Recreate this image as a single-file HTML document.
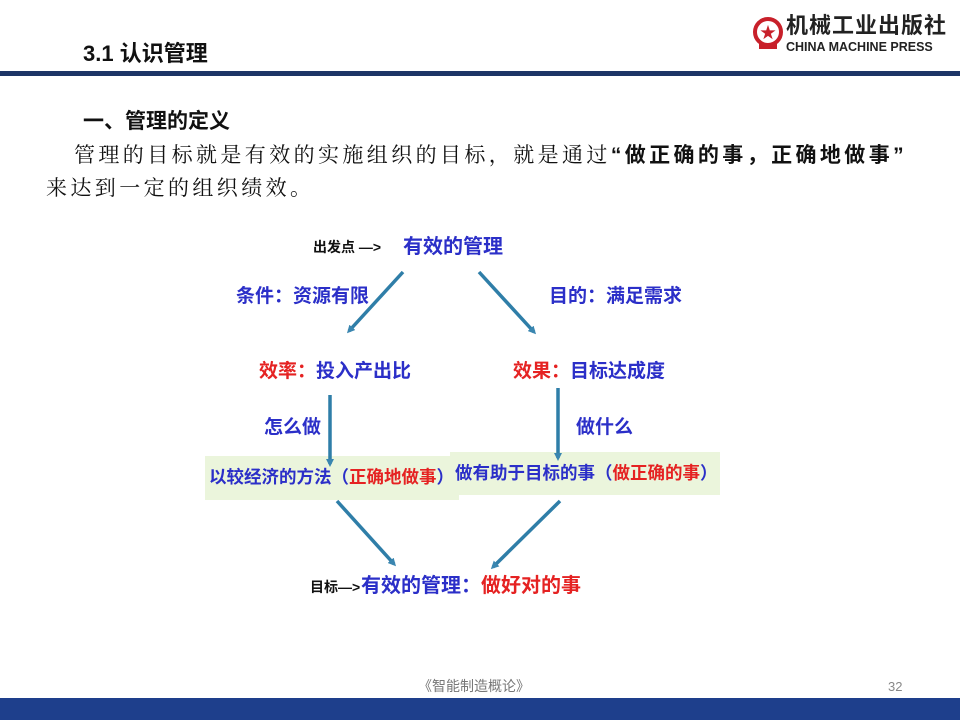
<!DOCTYPE html>
<html><head><meta charset="utf-8"><style>
body{margin:0;width:960px;height:720px;position:relative;background:#fff;overflow:hidden;font-family:"Liberation Sans","Noto Sans CJK SC",sans-serif}
.a{position:absolute;white-space:nowrap;line-height:1}
.b{color:#2b2fc8;font-weight:bold}
.r{color:#e52222;font-weight:bold}
.k{color:#111;font-weight:bold}
.s{font-family:"Liberation Serif","Noto Serif CJK SC",serif;font-size:21px;letter-spacing:3.4px;color:#111}
</style></head><body>
<div class="a" style="left:83px;top:43px;font-size:22px;font-weight:bold;color:#111">3.1 认识管理</div>
<div style="position:absolute;left:0;top:71px;width:960px;height:5px;background:#1d3566"></div>
<svg style="position:absolute;left:751px;top:17px" width="34" height="34"><circle cx="17" cy="15" r="13" fill="none" stroke="#c8202a" stroke-width="4"/><text x="17" y="21" font-size="16" fill="#c8202a" text-anchor="middle">★</text><rect x="8" y="26" width="18" height="6" fill="#c8202a"/></svg>
<div class="a" style="left:786px;top:15px;font-size:22px;font-weight:bold;color:#222;letter-spacing:1px">机械工业出版社</div>
<div class="a" style="left:786px;top:41px;font-size:12.5px;font-weight:bold;color:#222">CHINA MACHINE PRESS</div>
<div class="a" style="left:83px;top:111px;font-size:21px;font-weight:bold;color:#111">一、管理的定义</div>
<div class="a s" style="left:74px;top:145px">管理的目标就是有效的实施组织的目标，就是通过<b style="font-family:'Liberation Sans','Noto Sans CJK SC',sans-serif">“做正确的事，正确地做事”</b></div>
<div class="a s" style="left:46px;top:178px">来达到一定的组织绩效。</div>

<div style="position:absolute;left:205px;top:456px;width:254px;height:44px;background:#ebf5dc"></div>
<div style="position:absolute;left:450px;top:452px;width:270px;height:43px;background:#ebf5dc"></div>
<svg style="position:absolute;left:0;top:0" width="960" height="720">
<defs><marker id="m" markerUnits="userSpaceOnUse" markerWidth="8" markerHeight="8" refX="5" refY="4" orient="auto"><path d="M0,0L8,4L0,8z" fill="#3a86b0"/></marker></defs>
<g stroke="#2f7ea8" stroke-width="3.5" marker-end="url(#m)">
<line x1="403" y1="272" x2="349" y2="331"/>
<line x1="479" y1="272" x2="534" y2="332"/>
<line x1="330" y1="395" x2="330" y2="464"/>
<line x1="558" y1="388" x2="558" y2="458"/>
<line x1="337" y1="501" x2="394" y2="564"/>
<line x1="560" y1="501" x2="493" y2="567"/>
</g></svg>
<div class="a k" style="left:313px;top:240px;font-size:14px">出发点 —&gt;</div>
<div class="a b" style="left:403px;top:237px;font-size:20px">有效的管理</div>
<div class="a b" style="left:236px;top:287px;font-size:19px">条件：资源有限</div>
<div class="a b" style="left:549px;top:287px;font-size:19px">目的：满足需求</div>
<div class="a" style="left:259px;top:362px;font-size:19px"><span class="r">效率：</span><span class="b">投入产出比</span></div>
<div class="a" style="left:513px;top:362px;font-size:19px"><span class="r">效果：</span><span class="b">目标达成度</span></div>
<div class="a b" style="left:264px;top:418px;font-size:19px">怎么做</div>
<div class="a b" style="left:576px;top:418px;font-size:19px">做什么</div>
<div class="a" style="left:209px;top:469px;font-size:17.5px"><span class="b">以较经济的方法（</span><span class="r">正确地做事</span><span class="b">）</span></div>
<div class="a" style="left:455px;top:465px;font-size:17.5px"><span class="b">做有助于目标的事（</span><span class="r">做正确的事</span><span class="b">）</span></div>
<div class="a k" style="left:310px;top:580px;font-size:14px">目标—&gt;</div>
<div class="a" style="left:361px;top:576px;font-size:20px"><span class="b">有效的管理：</span><span class="r">做好对的事</span></div>

<div class="a" style="left:418px;top:679px;font-size:14px;color:#777">《智能制造概论》</div>
<div class="a" style="left:888px;top:680px;font-size:13px;color:#888">32</div>
<div style="position:absolute;left:0;top:698px;width:960px;height:22px;background:#1e3f8c"></div>
</body></html>
